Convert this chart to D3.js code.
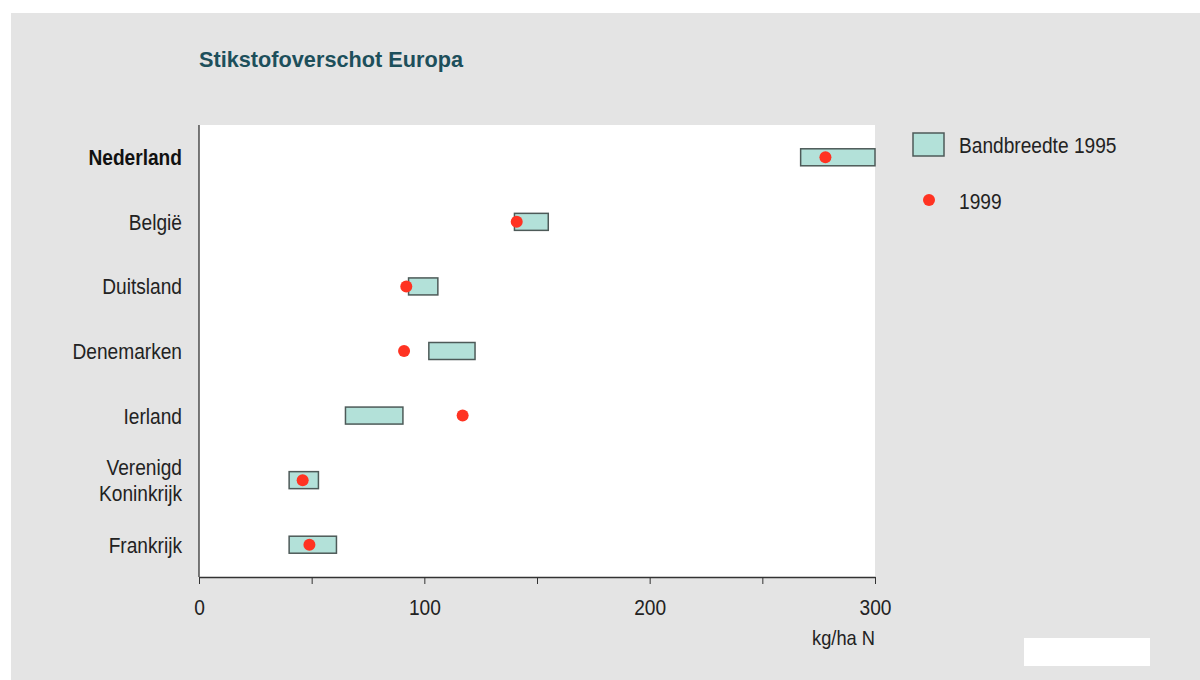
<!DOCTYPE html>
<html>
<head>
<meta charset="utf-8">
<script src="https://cdn.jsdelivr.net/npm/d3@7"></script>
<style>
  html, body { margin: 0; padding: 0; background: #ffffff; }
  svg { display: block; font-family: "Liberation Sans", Arial, sans-serif; }
</style>
</head>
<body>
<svg id="chart" width="1200" height="680"></svg>
<script>
// Nitrogen surplus per country: 1995 range (low–high) and 1999 value, kg/ha N
const countries = ["Nederland", "België", "Duitsland", "Denemarken", "Ierland", "Verenigd Koninkrijk", "Frankrijk"];
const band1995Low  = [267, 140, 93, 102, 65, 40, 40];
const band1995High = [300, 155, 106, 122.5, 90.5, 53, 61];
const value1999    = [278, 141, 92, 91, 117, 46, 49];
const xTicks = [0, 50, 100, 150, 200, 250, 300];
const xTickLabels = ["0", "", "100", "", "200", "", "300"];

const FS = 22;        // label font size
const SX = 0.87;      // horizontal squeeze for a narrow sans look

const svg = d3.select("#chart");

// narrow text helper: text drawn at origin, group placed and squeezed
function narrowText(parent, x, y, str, opts = {}) {
  const g = parent.append("g").attr("transform", `translate(${x},${y}) scale(${SX},1)`);
  const t = g.append("text")
    .attr("x", 0).attr("y", 0)
    .attr("font-size", opts.size || FS)
    .attr("fill", opts.fill || "#222")
    .attr("text-anchor", opts.anchor || "start")
    .attr("font-weight", opts.weight || "normal")
    .text(str);
  return t;
}

// grey page panel
svg.append("rect").attr("x", 11).attr("y", 13).attr("width", 1189).attr("height", 667).attr("fill", "#e4e4e4");
svg.append("rect").attr("x", 1024).attr("y", 638).attr("width", 126).attr("height", 28).attr("fill", "#ffffff");

const plot = { left: 199, right: 875, top: 125, bottom: 577 };

const x = d3.scaleLinear().domain([0, 300]).range([plot.left, plot.right]);
const y = d3.scaleBand().domain(countries).range([plot.top, plot.bottom]);

// white plotting area
svg.append("rect")
  .attr("x", plot.left).attr("y", plot.top)
  .attr("width", plot.right - plot.left).attr("height", plot.bottom - plot.top)
  .attr("fill", "#ffffff");

// title
svg.append("text")
  .attr("x", 199).attr("y", 67)
  .attr("font-size", 22).attr("font-weight", "bold")
  .attr("fill", "#1d4f5b")
  .attr("textLength", 264).attr("lengthAdjust", "spacingAndGlyphs")
  .text("Stikstofoverschot Europa");

// x axis
const xAxis = d3.axisBottom(x)
  .tickValues(xTicks)
  .tickFormat((d, i) => xTickLabels[i])
  .tickSize(7).tickSizeOuter(0).tickPadding(15);

const gx = svg.append("g")
  .attr("transform", `translate(0,${plot.bottom})`)
  .call(xAxis);
gx.select(".domain").attr("stroke", "#333").attr("stroke-width", 1.3);
gx.selectAll(".tick line").attr("stroke", "#333").attr("stroke-width", 1);
gx.selectAll(".tick text")
  .attr("font-size", FS).attr("fill", "#222")
  .attr("font-family", "'Liberation Sans', Arial, sans-serif")
  .attr("transform", `scale(${SX},1)`);

narrowText(svg, plot.right, 645, "kg/ha N", { anchor: "end", size: 21 });

// y axis line
svg.append("line")
  .attr("x1", plot.left).attr("x2", plot.left)
  .attr("y1", plot.top).attr("y2", plot.bottom)
  .attr("stroke", "#333").attr("stroke-width", 1.3);

// category labels
const labels = svg.append("g");
countries.forEach((c, i) => {
  const cy = y(c) + y.bandwidth() / 2;
  const lines = c === "Verenigd Koninkrijk" ? ["Verenigd", "Koninkrijk"] : [c];
  lines.forEach((l, j) => {
    narrowText(labels, 182, cy + 8 + (j - (lines.length - 1) / 2) * 26, l,
      { anchor: "end", weight: i === 0 ? "bold" : "normal", fill: i === 0 ? "#111" : "#222" });
  });
});

// 1995 range bars
const barH = 17;
svg.append("g").selectAll("rect")
  .data(countries)
  .join("rect")
  .attr("x", (d, i) => x(band1995Low[i]))
  .attr("width", (d, i) => x(band1995High[i]) - x(band1995Low[i]))
  .attr("y", d => y(d) + y.bandwidth() / 2 - barH / 2)
  .attr("height", barH)
  .attr("fill", "#b3e1d9")
  .attr("stroke", "#4d5a58")
  .attr("stroke-width", 1.5);

// 1999 values
svg.append("g").selectAll("circle")
  .data(countries)
  .join("circle")
  .attr("cx", (d, i) => x(value1999[i]))
  .attr("cy", d => y(d) + y.bandwidth() / 2)
  .attr("r", 6)
  .attr("fill", "#ff3322");

// legend
const lg = svg.append("g");
lg.append("rect")
  .attr("x", 913).attr("y", 133).attr("width", 31).attr("height", 23)
  .attr("fill", "#b3e1d9").attr("stroke", "#4d5a58").attr("stroke-width", 1.5);
narrowText(lg, 959, 153, "Bandbreedte 1995");
lg.append("circle")
  .attr("cx", 929).attr("cy", 200).attr("r", 6).attr("fill", "#ff3322");
narrowText(lg, 959, 209, "1999");
</script>
</body>
</html>
